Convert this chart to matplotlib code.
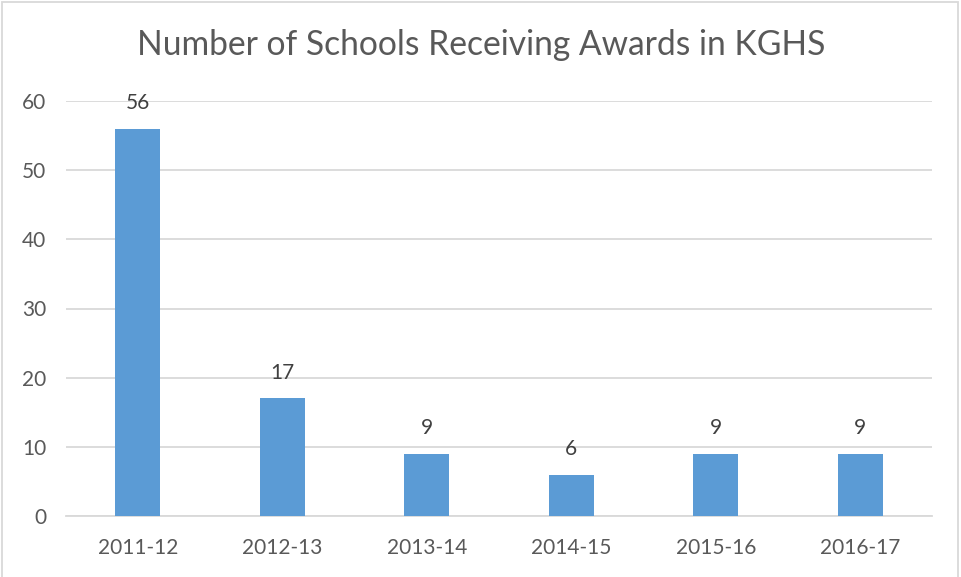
import matplotlib.pyplot as plt
from matplotlib.patches import Rectangle

years = ["2011-12", "2012-13", "2013-14", "2014-15", "2015-16", "2016-17"]
schools = [56, 17, 9, 6, 9, 9]
yticks = [0, 10, 20, 30, 40, 50, 60]

plt.rcParams['font.family'] = ['Lato', 'DejaVu Sans']

fig = plt.figure(figsize=(9.62, 5.77), dpi=100)
ax = fig.add_axes([65.5 / 962, 61 / 577, 867 / 962, 415 / 577])

x = range(len(years))
bars = ax.bar(x, schools, width=0.31, color="#5B9BD5", zorder=3)
for b, v in zip(bars, schools):
    ax.text(b.get_x() + b.get_width() / 2, v + 2.3, str(v), ha="center", va="bottom",
            fontsize=15, color="#404040")

ax.set_xlim(-0.5, len(years) - 0.5)
ax.set_ylim(0, 60)
ax.set_yticks(yticks)
ax.set_xticks(list(x))
ax.set_xticklabels(years)
ax.grid(axis="y", color="#D9D9D9", linewidth=1.3, zorder=0)
for s in ["top", "right", "left"]:
    ax.spines[s].set_visible(False)
ax.spines["bottom"].set_color("#D9D9D9")
ax.spines["bottom"].set_linewidth(1.3)
ax.tick_params(length=0, labelsize=15, labelcolor="#595959")
ax.tick_params(axis="y", pad=14)
ax.tick_params(axis="x", pad=16)

fig.text(481 / 962, 1 - 45 / 577, "Number of Schools Receiving Awards in KGHS",
         ha="center", va="center", fontsize=24.2, color="#595959")

# thin frame around the chart area
fig.patches.append(Rectangle((2 / 962, -0.01), 956 / 962, 1 - 2 / 577 + 0.01,
                             transform=fig.transFigure, fill=False,
                             edgecolor="#D9D9D9", linewidth=1.3))

fig.savefig("out.png", dpi=100)
